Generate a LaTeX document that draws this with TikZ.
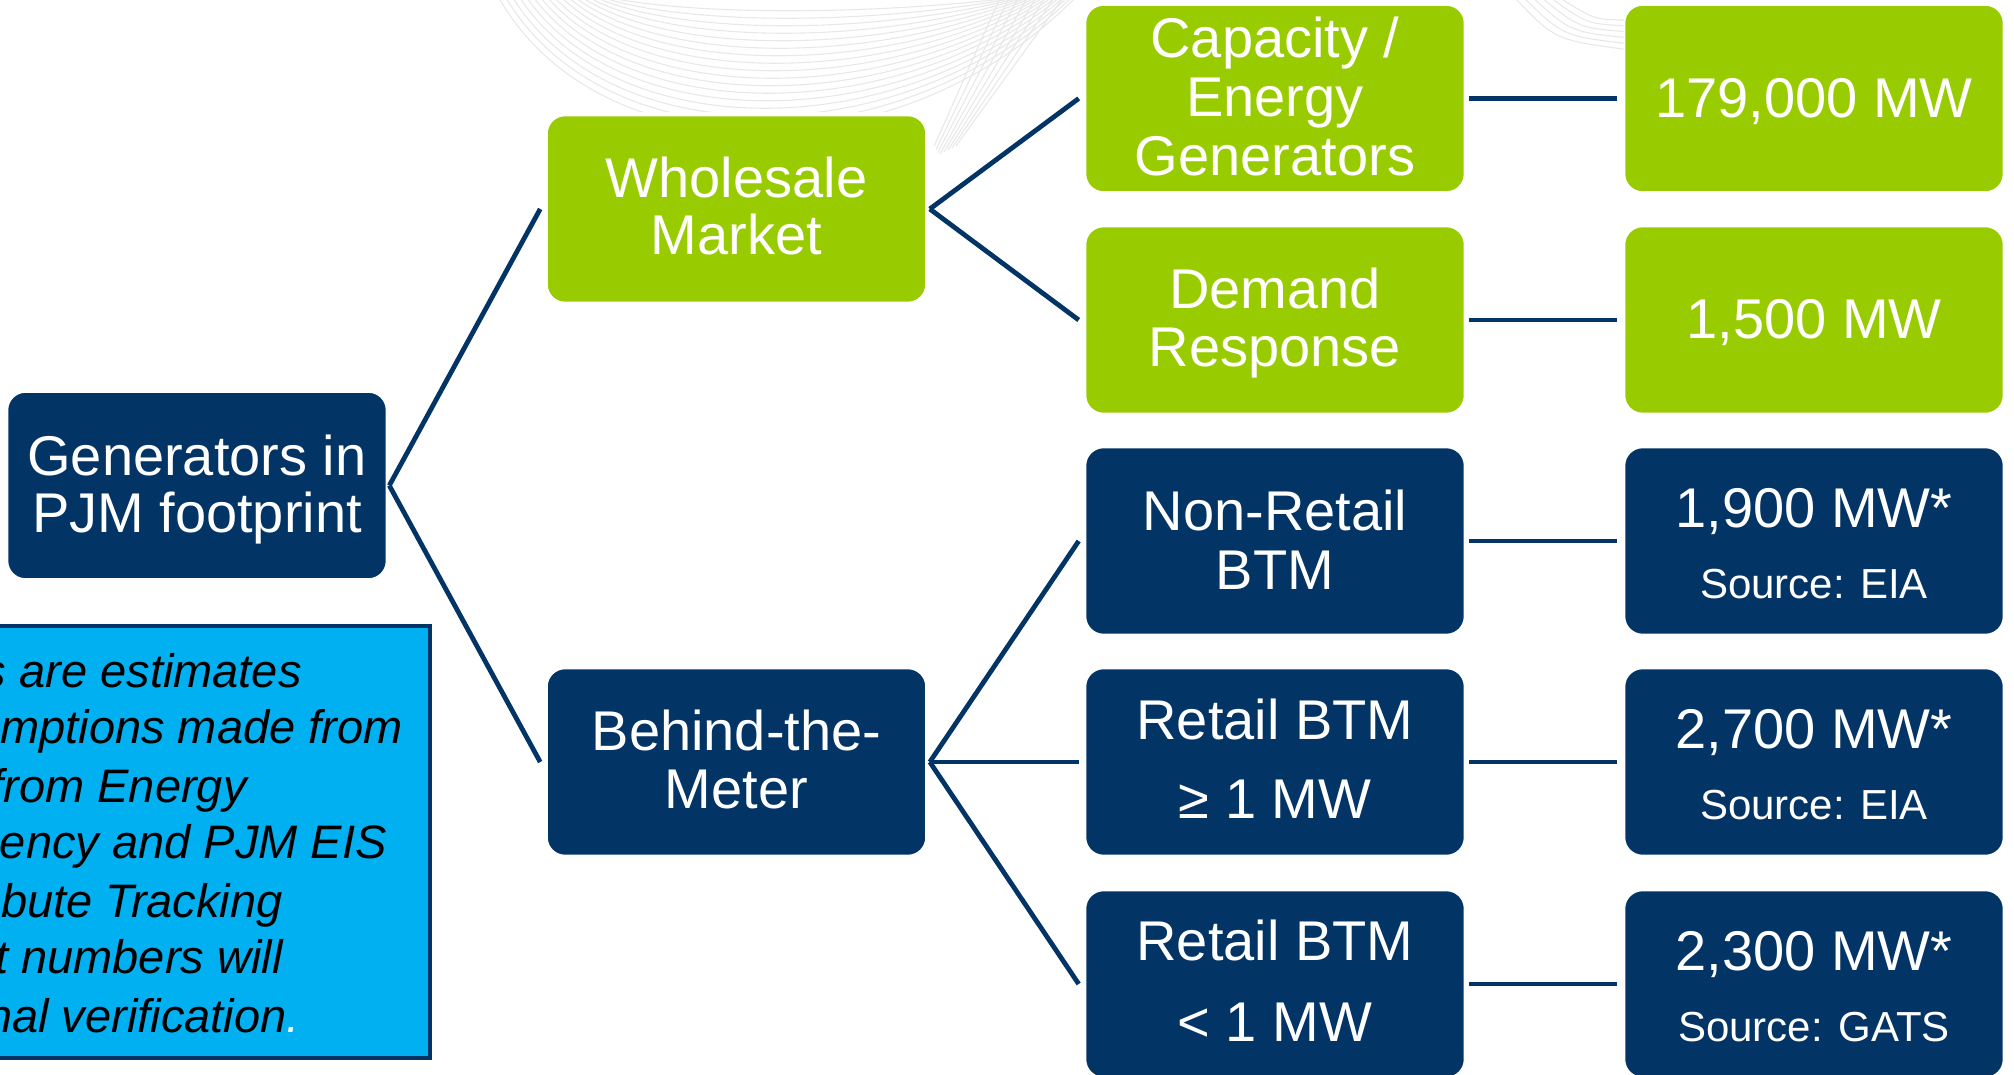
\documentclass[tikz,border=0pt]{standalone}
\usepackage{fontspec}
\setmainfont{Liberation Sans}
\definecolor{navy}{RGB}{3,52,102}
\definecolor{lgreen}{RGB}{153,204,0}
\definecolor{sky}{RGB}{0,176,240}
\definecolor{bggrey}{RGB}{232,232,232}
\tikzset{
  box/.style={rounded corners=9pt, minimum width=189.5pt, minimum height=93.5pt, inner sep=0pt, draw=white, line width=0.8pt},
  gbox/.style={box, fill=lgreen},
  nbox/.style={box, fill=navy},
  big/.style={text=white, anchor=base, inner sep=0pt, font=\fontsize{28}{30}\selectfont},
  small/.style={text=white, anchor=base, inner sep=0pt, font=\fontsize{21}{24}\selectfont},
  conn/.style={draw=navy, line width=2.4pt},
  notebox/.style={draw=navy, line width=2pt, fill=sky, minimum width=225pt, minimum height=216pt, inner sep=0pt},
  notetxt/.style={anchor=base east, inner sep=0pt, text=black, font=\fontsize{23.5}{28}\selectfont\itshape},
  bgline/.style={draw=bggrey, line width=0.55pt},
}
\begin{document}
\begin{tikzpicture}[x=0.5pt,y=-0.5pt]
\useasboundingbox (0,0) rectangle (2014,1075);
\clip (0,0) rectangle (2014,1075);
% background decoration
\begin{scope}
  \clip (480,-5) -- (1110,-5) -- (945,165) -- (915,112) -- (480,112) -- cycle;
  \foreach \i in {0,...,16}{
    \draw[bgline] ({499+7*\i},-2) .. controls ({600+6*\i},{175-10*\i}) and ({900-2*\i},{175-10*\i}) .. ({1075-4*\i},-2);
  }
  \foreach \i in {0,...,7}{
    \draw[bgline] ({928+4*\i},{160-2*\i}) -- ({1000+9*\i},-2);
  }
\end{scope}
\foreach \i in {0,...,5}{
  \draw[bgline] ({1515+9*\i},-2) .. controls ({1555+8*\i},{40-4*\i}) .. ({1630},{50-6*\i});
}
% boxes
\node[nbox] (gen) at (197,485.5) {};
\node[gbox] (whole) at (736.5,209) {};
\node[nbox] (btm) at (736.5,762) {};
\node[gbox] (cap) at (1275,98.5) {};
\node[gbox] (dr) at (1275,320) {};
\node[nbox] (nr) at (1275,541) {};
\node[nbox] (ra) at (1275,762) {};
\node[nbox] (rb) at (1275,984) {};
\node[gbox] (va) at (1814,98.5) {};
\node[gbox] (vb) at (1814,320) {};
\node[nbox] (vc) at (1814,541) {};
\node[nbox] (vd) at (1814,762) {};
\node[nbox] (ve) at (1814,984) {};
% texts
\node[big] (genA) at (197,475) {Generators in};
\node[big] (genB) at (197,532) {PJM footprint};
\node[big] (wholeA) at (736.5,198) {Wholesale};
\node[big] (wholeB) at (736.5,255) {Market};
\node[big] (btmA) at (736.5,750) {Behind-the-};
\node[big] (btmB) at (736.5,808) {Meter};
\node[big] (capA) at (1275,58) {Capacity /};
\node[big] (capB) at (1275,117) {Energy};
\node[big] (capC) at (1275,176) {Generators};
\node[big] (drA) at (1275,308) {Demand};
\node[big] (drB) at (1275,366) {Response};
\node[big] (nrA) at (1275,530) {Non-Retail};
\node[big] (nrB) at (1275,589) {BTM};
\node[big] (raA) at (1275,739) {Retail BTM};
\node[big] (raB) at (1275,818) {≥ 1 MW};
\node[big] (rbA) at (1275,960) {Retail BTM};
\node[big] (rbB) at (1275,1041) {< 1 MW};
\node[big] (vaA) at (1814,118) {179,000 MW};
\node[big] (vbA) at (1814,339) {1,500 MW};
\node[big] (vcA) at (1814,527) {1,900 MW*};
\node[small] (vcB) at (1814,598) {Source: EIA};
\node[big] (vdA) at (1814,748) {2,700 MW*};
\node[small] (vdB) at (1814,819) {Source: EIA};
\node[big] (veA) at (1814,970) {2,300 MW*};
\node[small] (veB) at (1814,1041) {Source: GATS};
% connectors
\draw[conn] ([xshift=1pt]gen.east) -- ([xshift=-3pt]whole.west);
\draw[conn] ([xshift=1pt]gen.east) -- ([xshift=-3pt]btm.west);
\draw[conn] ([xshift=1.5pt]whole.east) -- ([xshift=-3pt]cap.west);
\draw[conn] ([xshift=1.5pt]whole.east) -- ([xshift=-3pt]dr.west);
\draw[conn] ([xshift=1.5pt]btm.east) -- ([xshift=-3pt]nr.west);
\draw[conn] ([xshift=1.5pt]btm.east) -- ([xshift=-3pt]ra.west);
\draw[conn] ([xshift=1.5pt]btm.east) -- ([xshift=-3pt]rb.west);
\draw[conn] ([xshift=2pt]cap.east) -- ([xshift=-3.5pt]va.west);
\draw[conn] ([xshift=2pt]dr.east) -- ([xshift=-3.5pt]vb.west);
\draw[conn] ([xshift=2pt]nr.east) -- ([xshift=-3.5pt]vc.west);
\draw[conn] ([xshift=2pt]ra.east) -- ([xshift=-3.5pt]vd.west);
\draw[conn] ([xshift=2pt]rb.east) -- ([xshift=-3.5pt]ve.west);
% note
\node[notebox] (note) at (205,842) {};
\node[notetxt] (tA) at (302,687) {s are estimates};
\node[notetxt] (tB) at (403,743) {mptions made from};
\node[notetxt] (tC) at (247,802) {from Energy};
\node[notetxt] (tD) at (387,858) {ency and PJM EIS};
\node[notetxt] (tE) at (283,917) {bute Tracking};
\node[notetxt] (tF) at (283,973) {t numbers will};
\node[notetxt] (tG) at (300,1032) {nal verification\textcolor{white}{.}};
\end{tikzpicture}
\end{document}
